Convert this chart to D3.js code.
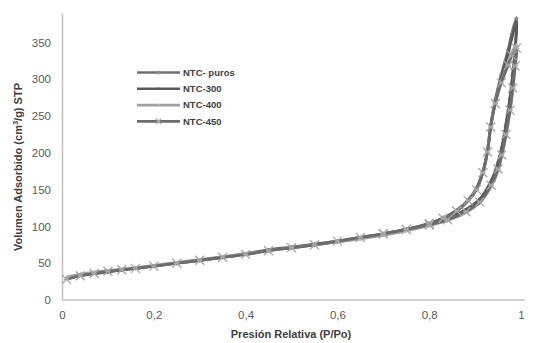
<!DOCTYPE html>
<html>
<head>
<meta charset="utf-8">
<script src="https://cdn.jsdelivr.net/npm/d3@7"></script>
<style>
  html, body { margin: 0; padding: 0; background: #fff; }
  svg { display: block; }
</style>
</head>
<body>
<svg id="chart" width="534" height="343"></svg>
<script>
// Relative pressure points (P/Po) for the adsorption and desorption branches
const pAds = [0.01, 0.04, 0.07, 0.1, 0.13, 0.16, 0.2, 0.25, 0.3, 0.35, 0.4, 0.45, 0.5, 0.55, 0.6,
              0.65, 0.7, 0.75, 0.8, 0.84, 0.88, 0.91, 0.935, 0.95, 0.958, 0.967, 0.976, 0.982, 0.987, 0.99];
const pDes = [0.98, 0.972, 0.957, 0.944, 0.934, 0.927, 0.917, 0.903, 0.885, 0.86, 0.83, 0.8, 0.75, 0.7];

// Adsorbed volume (cm3/g STP) for each sample
const puroAds = [30, 34, 37, 39, 41, 43, 46, 50, 54, 58, 62, 67, 71, 75, 79, 84, 89, 95, 102, 110, 122, 136, 160, 185, 204, 235, 272, 305, 340, 383];
const puroDes = [362, 340, 306, 272, 238, 204, 175, 152, 136, 122, 111, 104, 96, 90];
const n300Ads = [29, 33, 36, 38, 41, 43, 46, 50, 54, 58, 63, 68, 72, 76, 80, 85, 90, 96, 103, 111, 123, 137, 162, 187, 207, 238, 275, 307, 338, 377];
const n300Des = [356, 335, 302, 269, 236, 202, 174, 151, 135, 121, 111, 104, 96, 90];
const n400Ads = [31, 35, 38, 40, 42, 44, 47, 51, 55, 59, 63, 67, 71, 75, 79, 83, 88, 94, 101, 108, 119, 132, 154, 176, 195, 222, 255, 285, 315, 347];
const n400Des = [336, 322, 297, 268, 236, 202, 173, 150, 135, 121, 110, 103, 95, 89];
const n450Ads = [28, 33, 36, 39, 41, 43, 46, 50, 54, 58, 62, 67, 71, 75, 80, 85, 90, 96, 102, 109, 120, 133, 156, 178, 197, 225, 258, 288, 318, 342];
const n450Des = [332, 319, 295, 267, 235, 201, 173, 150, 135, 121, 111, 104, 96, 90];

const seriesNames = ["NTC- puros", "NTC-300", "NTC-400", "NTC-450"];
const xTicks = [0, 0.2, 0.4, 0.6, 0.8, 1];
const yTicks = [0, 50, 100, 150, 200, 250, 300, 350];

const series = [
  { name: seriesNames[0], ads: puroAds, des: puroDes, line: "#707070", mark: "#8c8c8c", shape: "plus" },
  { name: seriesNames[1], ads: n300Ads, des: n300Des, line: "#5a5a5a", mark: "#5a5a5a", shape: "square" },
  { name: seriesNames[2], ads: n400Ads, des: n400Des, line: "#a0a0a0", mark: "#b5b5b5", shape: "triangle" },
  { name: seriesNames[3], ads: n450Ads, des: n450Des, line: "#6c6c6c", mark: "#a6a6a6", shape: "x" }
];

const svg = d3.select("#chart");
const x = d3.scaleLinear().domain([0, 1]).range([62, 521]);
const y = d3.scaleLinear().domain([0, 390]).range([300, 13]);

const tickFont = "'Liberation Sans', Arial, sans-serif";

// Axes (no tick marks, grey axis lines)
const xAxis = svg.append("g").attr("transform", `translate(0,${y(0)})`)
  .call(d3.axisBottom(x).tickValues(xTicks).tickSize(0).tickPadding(11)
    .tickFormat(d => d3.format("")(d).replace(".", ",")));
const yAxis = svg.append("g").attr("transform", `translate(${x(0)},0)`)
  .call(d3.axisLeft(y).tickValues(yTicks).tickSize(0).tickPadding(11));
[xAxis, yAxis].forEach(g => {
  g.select(".domain").attr("stroke", "#c4c4c4").attr("stroke-width", 1.6);
  g.selectAll("text").attr("fill", "#5a5a5a").style("font-family", tickFont).style("font-size", "11.5px");
});
xAxis.select(".domain").attr("d", `M${x(0)},0H525`);

// Axis titles
svg.append("text")
  .attr("x", 291).attr("y", 338)
  .attr("text-anchor", "middle")
  .style("font-family", tickFont).style("font-weight", "bold").style("font-size", "11px")
  .attr("fill", "#404040")
  .text("Presión Relativa (P/Po)");

const yTitle = svg.append("text")
  .attr("transform", "translate(22,167) rotate(-90)")
  .attr("text-anchor", "middle")
  .style("font-family", tickFont).style("font-weight", "bold").style("font-size", "11px")
  .attr("fill", "#404040");
yTitle.append("tspan").text("Volumen Adsorbido (cm");
yTitle.append("tspan").attr("dy", -4).style("font-size", "7.5px").text("3");
yTitle.append("tspan").attr("dy", 4).text("/g) STP");

// Marker drawing
function marker(g, shape, color, size) {
  const s = size;
  if (shape === "plus") {
    g.append("path").attr("d", `M${-s},0H${s}M0,${-s}V${s}`).attr("stroke", color).attr("stroke-width", 1.2).attr("fill", "none");
  } else if (shape === "square") {
    g.append("rect").attr("x", -s * 0.6).attr("y", -s * 0.6).attr("width", s * 1.2).attr("height", s * 1.2).attr("fill", color);
  } else if (shape === "triangle") {
    g.append("path").attr("d", `M0,${-s * 0.8}L${s * 0.8},${s * 0.6}L${-s * 0.8},${s * 0.6}Z`).attr("fill", color);
  } else {
    g.append("path").attr("d", `M${-s},${-s}L${s},${s}M${-s},${s}L${s},${-s}M${-s * 0.6},0H${s * 0.6}`)
      .attr("stroke", color).attr("stroke-width", 1.3).attr("fill", "none");
  }
}

const line = d3.line().x(d => x(d[0])).y(d => y(d[1])).curve(d3.curveCatmullRom.alpha(0.5));

const plot = svg.append("g");
series.forEach(s => {
  const pts = pAds.map((p, i) => [p, s.ads[i]]).concat(pDes.map((p, i) => [p, s.des[i]]));
  plot.append("path").datum(pts)
    .attr("d", line).attr("fill", "none")
    .attr("stroke", s.line).attr("stroke-width", 2.8).attr("stroke-linejoin", "round");
  const msize = s.shape === "x" ? 4.5 : 2.2;
  pts.forEach(d => {
    const g = plot.append("g").attr("transform", `translate(${x(d[0])},${y(d[1])})`);
    marker(g, s.shape, s.mark, msize);
  });
});

// Legend
const legend = svg.append("g");
series.forEach((s, i) => {
  const ly = 72.5 + i * 16.3;
  legend.append("line").attr("x1", 137).attr("x2", 180).attr("y1", ly).attr("y2", ly)
    .attr("stroke", s.line).attr("stroke-width", 2.6);
  const g = legend.append("g").attr("transform", `translate(158.5,${ly})`);
  marker(g, s.shape, s.mark, s.shape === "x" ? 2.6 : 2);
  legend.append("text").attr("x", 183).attr("y", ly + 3.3)
    .style("font-family", "'Liberation Sans Narrow', 'Liberation Sans', Arial, sans-serif")
    .style("font-weight", "bold").style("font-size", "9.5px")
    .attr("fill", "#404040").text(s.name);
});
</script>
</body>
</html>
